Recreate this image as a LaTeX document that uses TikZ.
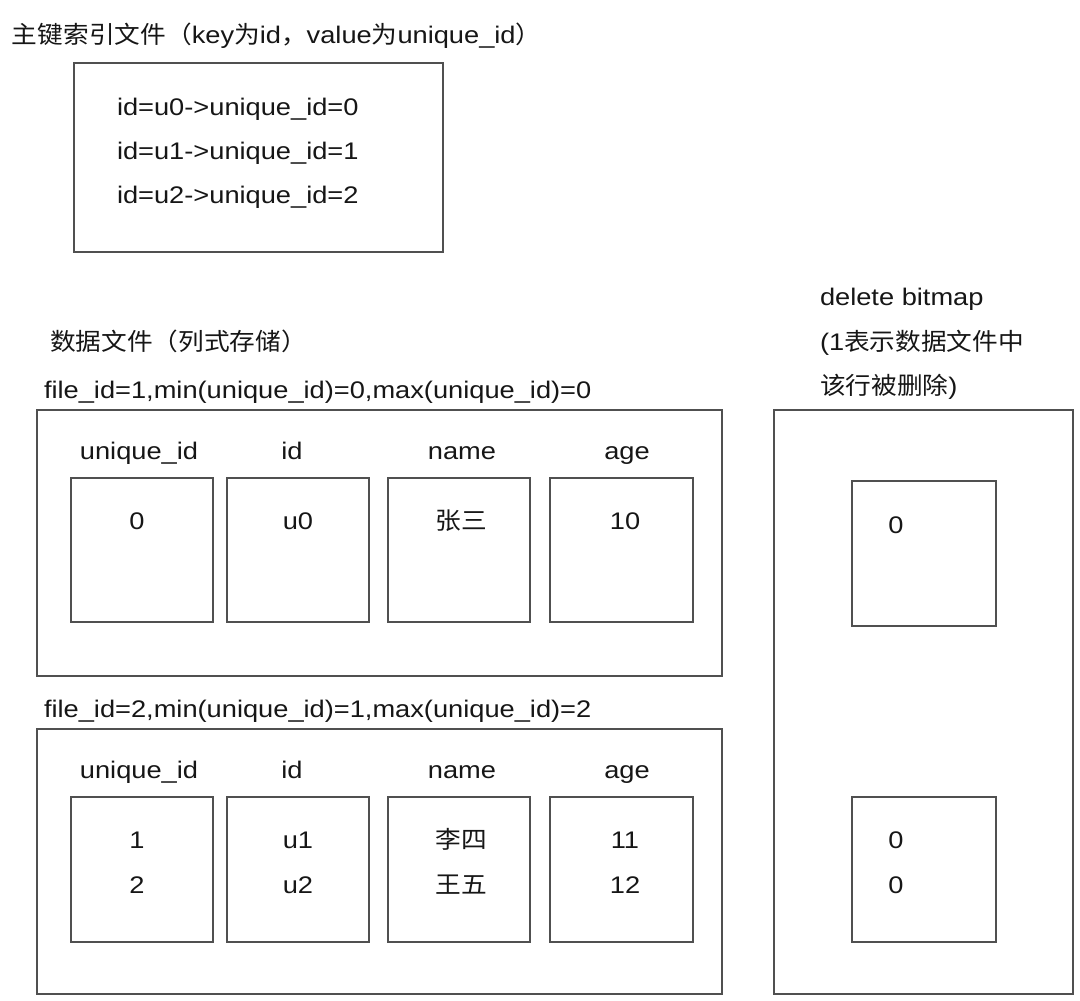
\documentclass[tikz,border=0pt]{standalone}
\usepackage{fontspec}
\setmainfont{Liberation Sans}[FakeStretch=1.135]
\newfontfamily\cjk{Noto Sans CJK SC}[FakeStretch=1.07]
\newcommand\zh[1]{{\cjk #1}}
\definecolor{linegray}{HTML}{505050}
\definecolor{txt}{HTML}{161616}
\tikzset{
  box/.style={draw=linegray, line width=2.5pt, inner sep=0pt, outer sep=0pt, fill=white},
  lbl/.style={text=txt, inner sep=0pt, outer sep=0pt, font=\fontsize{24}{28}\selectfont},
  lw/.style={lbl, anchor=base west},
  lc/.style={lbl, anchor=base},
}
\begin{document}
\begin{tikzpicture}[x=1pt,y=-1pt]
\fill[white] (0,0) rectangle (1080,1001);
\useasboundingbox (0,0) rectangle (1080,1001);

% primary key index file
\node[lw] (t1) at (12,43) {\zh{主键索引文件（}key\zh{为}id\zh{，}value\zh{为}unique\_id\zh{）}};
\node[box, minimum width=369pt, minimum height=189pt] (idx) at (258.5,157.5) {};
\node[lw] (i0) at (117,115) {id=u0->unique\_id=0};
\node[lw] (i1) at (117,159) {id=u1->unique\_id=1};
\node[lw] (i2) at (117,203) {id=u2->unique\_id=2};

% data files
\node[lw] (t2) at (50,350) {\zh{数据文件（列式存储）}};
\node[lw] (f1l) at (44,398) {file\_id=1,min(unique\_id)=0,max(unique\_id)=0};
\node[box, minimum width=685pt, minimum height=266pt] (f1) at (379.5,543) {};
\node[lc] (h1a) at (139,459) {unique\_id};
\node[lc] (h1b) at (292,459) {id};
\node[lc] (h1c) at (462,459) {name};
\node[lc] (h1d) at (627,459) {age};
\node[box, minimum width=142pt, minimum height=144pt] (c1a) at (142,550) {};
\node[box, minimum width=142pt, minimum height=144pt] (c1b) at (298,550) {};
\node[box, minimum width=142pt, minimum height=144pt] (c1c) at (459,550) {};
\node[box, minimum width=143pt, minimum height=144pt] (c1d) at (621.5,550) {};
\node[lc] (v1a) at (137,529) {0};
\node[lc] (v1b) at (298,529) {u0};
\node[lc] (v1c) at (461,529) {\zh{张三}};
\node[lc] (v1d) at (625,529) {10};

\node[lw] (f2l) at (44,717) {file\_id=2,min(unique\_id)=1,max(unique\_id)=2};
\node[box, minimum width=685pt, minimum height=265pt] (f2) at (379.5,861.5) {};
\node[lc] (h2a) at (139,778) {unique\_id};
\node[lc] (h2b) at (292,778) {id};
\node[lc] (h2c) at (462,778) {name};
\node[lc] (h2d) at (627,778) {age};
\node[box, minimum width=142pt, minimum height=145pt] (c2a) at (142,869.5) {};
\node[box, minimum width=142pt, minimum height=145pt] (c2b) at (298,869.5) {};
\node[box, minimum width=142pt, minimum height=145pt] (c2c) at (459,869.5) {};
\node[box, minimum width=143pt, minimum height=145pt] (c2d) at (621.5,869.5) {};
\node[lc] (v2a1) at (137,848) {1};
\node[lc] (v2a2) at (137,893) {2};
\node[lc] (v2b1) at (298,848) {u1};
\node[lc] (v2b2) at (298,893) {u2};
\node[lc] (v2c1) at (461,848) {\zh{李四}};
\node[lc] (v2c2) at (461,893) {\zh{王五}};
\node[lc] (v2d1) at (625,848) {11};
\node[lc] (v2d2) at (625,893) {12};

% delete bitmap
\node[lw] (b1) at (820,305) {delete bitmap};
\node[lw] (b2) at (820,350) {(1\zh{表示数据文件中}};
\node[lw] (b3) at (820,394) {\zh{该行被删除}){}};
\node[box, minimum width=299pt, minimum height=584pt] (bm) at (923.5,702) {};
\node[box, minimum width=144pt, minimum height=145pt] (bm1) at (924,553.5) {};
\node[box, minimum width=144pt, minimum height=145pt] (bm2) at (924,869.5) {};
\node[lc] (bv1) at (896,533) {0};
\node[lc] (bv2) at (896,848) {0};
\node[lc] (bv3) at (896,893) {0};
\end{tikzpicture}
\end{document}
